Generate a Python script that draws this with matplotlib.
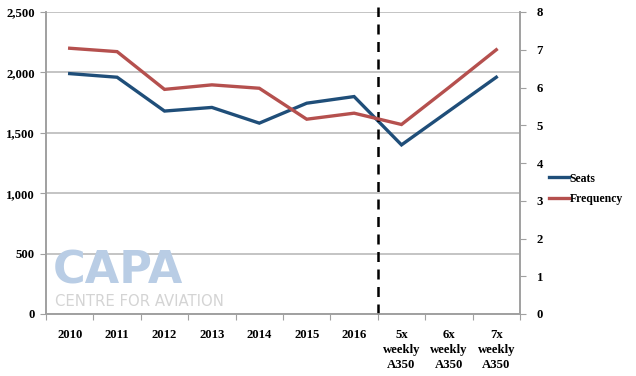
import numpy as np
import matplotlib
matplotlib.use('Agg')
import matplotlib.pyplot as plt
from matplotlib.ticker import FuncFormatter

categories = ['2010', '2011', '2012', '2013', '2014', '2015', '2016',
              '5x\nweekly\nA350', '6x\nweekly\nA350', '7x\nweekly\nA350']
seats = [1990, 1960, 1680, 1710, 1580, 1745, 1800, 1400, 1680, 1960]
frequency = [7.04, 6.95, 5.95, 6.07, 5.98, 5.16, 5.32, 5.02, 6.0, 7.0]

blue = '#1F4E79'
red = '#B5504E'
grid = '#BFBFBF'
serif = ['Liberation Serif', 'DejaVu Serif']

fig = plt.figure(figsize=(6.36, 3.76), dpi=100)
ax = fig.add_axes([46/636, 62/376, 474/636, 302/376])
ax2 = ax.twinx()

x = np.arange(len(categories))

# watermark
fig.text(53/636, 1 - 283/376, 'CAPA', fontsize=32, fontweight='bold',
         color='#B9CDE5', family='DejaVu Sans', ha='left', va='baseline', zorder=0)
fig.text(55/636, 1 - 306/376, 'CENTRE FOR AVIATION', fontsize=10.7,
         color='#D4D4D4', family='DejaVu Sans', ha='left', va='baseline', zorder=0)

ax.set_facecolor('none')
ax2.set_facecolor('none')

l1, = ax.plot(x, seats, color=blue, lw=2.4, solid_joinstyle='miter', label='Seats', zorder=3)
l2, = ax2.plot(x, frequency, color=red, lw=2.4, solid_joinstyle='miter', label='Frequency', zorder=3)
ax2.axvline(6.5, ymin=0, ymax=1.015, color='black', lw=1.8, ls=(0, (4, 3)), clip_on=False)

ax.set_xlim(-0.5, 9.5)
ax.set_ylim(0, 2500)
ax.set_yticks(np.arange(0, 2501, 500))
ax.yaxis.set_major_formatter(FuncFormatter(lambda v, p: f'{int(v):,}'))
ax2.set_ylim(0, 8)
ax2.set_yticks(np.arange(0, 9, 1))

ax.yaxis.grid(True, color=grid, lw=1.3)
ax.set_axisbelow(True)

ax.set_xticks(np.arange(-0.5, 10, 1))
ax.set_xticklabels([])
ax.set_xticks(x, minor=True)
ax.set_xticklabels(categories, minor=True, linespacing=1.3)
ax.tick_params(axis='x', which='minor', length=0, pad=11)
ax.tick_params(axis='x', which='major', length=4, color='#A0A0A0', direction='out')
ax.tick_params(axis='y', length=4, color='#A0A0A0', pad=4)
ax2.tick_params(axis='y', length=4, color='#A0A0A0', pad=8)

for lab in ax.get_xticklabels(minor=True) + ax.get_yticklabels() + ax2.get_yticklabels():
    lab.set_family(serif)
    lab.set_fontweight('bold')
    lab.set_fontsize(9.2)

for a in (ax, ax2):
    for s in a.spines.values():
        s.set_color('#A0A0A0')
        s.set_linewidth(1.2)
    a.spines['top'].set_visible(False)

ax.legend([l1, l2], ['Seats', 'Frequency'], loc='center left',
          bbox_to_anchor=(538/636, 1 - 189/376), bbox_transform=fig.transFigure,
          frameon=False, handlelength=1.7, handletextpad=0.1, labelspacing=0.75,
          prop={'family': serif, 'weight': 'bold', 'size': 8.5})

fig.savefig('out.png', dpi=100)
